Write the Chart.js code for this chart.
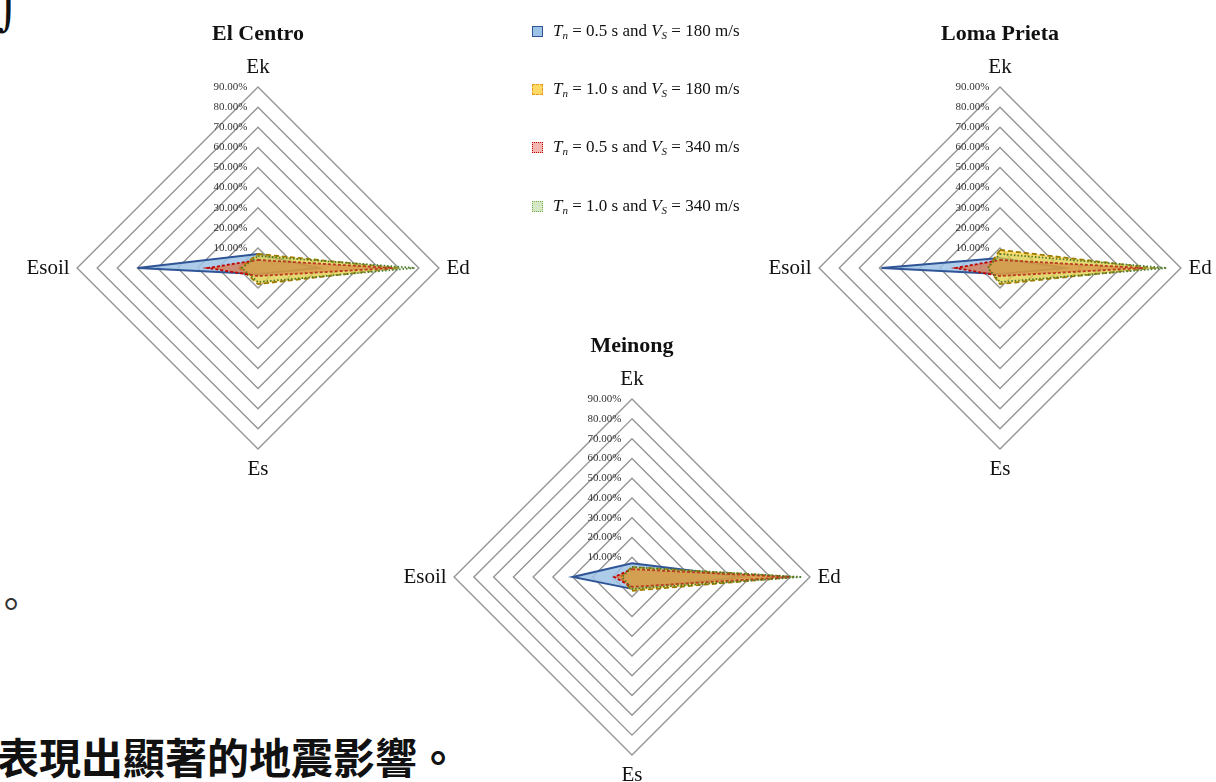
<!DOCTYPE html>
<html>
<head>
<meta charset="utf-8">
<script src="https://cdn.jsdelivr.net/npm/chart.js@4.4.1/dist/chart.umd.min.js"></script>
<style>
  html, body { margin: 0; padding: 0; background: #fff; }
  body { width: 1216px; height: 782px; position: relative; overflow: hidden; font-family: "Liberation Serif", serif; }
  canvas { position: absolute; }
  #legend { position: absolute; left: 530px; top: 19px; }
  .row { position: absolute; left: 0; height: 26px; width: 240px; white-space: nowrap; font-size: 17px; color: #111; }
  .mk { position: absolute; left: 2px; top: 7px; width: 9px; height: 9px; }
  .txt { position: absolute; left: 23px; top: 2px; }
  sub { font-size: 11px; vertical-align: -3px; }
  .cjk { position: absolute; font-family: "Noto Sans CJK TC", sans-serif; font-weight: bold; color: #111; line-height: 1; }
</style>
</head>
<body>
<div class="cjk" style="left:-3px;top:-14px;font-family:'DejaVu Sans';font-weight:normal;font-size:44px;">⌡</div>
<div class="cjk" style="left:-8px;top:583px;font-weight:normal;font-size:38px;color:#333;">。</div>
<div class="cjk" style="left:-3px;top:735px;font-size:42px;">表現出顯著的地震影響。</div>

<canvas id="elcentro" width="540" height="468" style="left:-12px;top:14px;"></canvas>
<canvas id="meinong" width="540" height="462" style="left:362px;top:326px;"></canvas>
<canvas id="lomaprieta" width="540" height="468" style="left:730px;top:14px;"></canvas>
<div id="legend"></div>

<script>
// energy components (axes), read clockwise from the top
var axisLabels = ['Ek', 'Ed', 'Es', 'Esoil'];
var tickValues = [0, 10, 20, 30, 40, 50, 60, 70, 80, 90];

// series: natural period Tn and soil shear wave velocity Vs
var periods = ['0.5', '1.0', '0.5', '1.0'];
var velocities = ['180', '180', '340', '340'];

// El Centro  [Ek, Ed, Es, Esoil] in %
var elCentro1 = [7, 30, 3, 60];
var elCentro2 = [7, 70, 8, 9];
var elCentro3 = [4, 67, 4, 25];
var elCentro4 = [6, 78, 7, 8];

// Loma Prieta
var lomaPrieta1 = [5, 32, 3, 59];
var lomaPrieta2 = [9, 76, 8, 6];
var lomaPrieta3 = [4, 71, 4, 22];
var lomaPrieta4 = [7, 83, 7, 6];

// Meinong
var meinong1 = [7, 56, 6, 30];
var meinong2 = [5, 82, 7, 6];
var meinong3 = [4, 80, 5, 9];
var meinong4 = [5, 86, 6, 5];

var fills = ['rgba(157,195,230,0.85)', 'rgba(255,205,45,0.7)', 'rgba(228,100,40,0.6)', 'rgba(165,210,125,0.28)'];
var borders = ['#2F5597', '#9C7C00', '#C00000', '#4E7A2E'];
var dashes = [[], [5, 3], [3, 2], [1.5, 2]];

function makeRadar(id, title, series, titleTop) {
  var datasets = series.map(function (vals, i) {
    return {
      label: 'Tn = ' + periods[i] + ' s and VS = ' + velocities[i] + ' m/s',
      data: vals,
      fill: true,
      backgroundColor: fills[i],
      borderColor: borders[i],
      borderWidth: i === 0 ? 2 : 1.8,
      borderDash: dashes[i],
      pointRadius: 0,
      order: 3 - i
    };
  });

  new Chart(document.getElementById(id), {
    type: 'radar',
    data: { labels: axisLabels, datasets: datasets },
    options: {
      responsive: false,
      animation: false,
      devicePixelRatio: 1,
      plugins: {
        legend: { display: false },
        tooltip: { enabled: false },
        title: {
          display: true,
          text: title,
          color: '#111',
          font: { family: 'Liberation Serif', size: 22, weight: 'bold' },
          padding: { top: titleTop, bottom: 7 }
        }
      },
      scales: {
        r: {
          min: tickValues[0],
          max: tickValues[tickValues.length - 1],
          angleLines: { display: false },
          grid: { color: '#959595', lineWidth: 1.4 },
          ticks: {
            stepSize: 10,
            color: '#333',
            showLabelBackdrop: false,
            backdropPadding: 0,
            font: { family: 'Liberation Serif', size: 11 },
            callback: function (v) { return v.toFixed(2) + '%' + '\u2003\u2003\u2003\u2003\u2003'; }
          },
          pointLabels: {
            color: '#111',
            padding: 2,
            font: { family: 'Liberation Serif', size: 21 }
          }
        }
      }
    }
  });
}

makeRadar('elcentro', 'El Centro', [elCentro1, elCentro2, elCentro3, elCentro4], 7);
makeRadar('lomaprieta', 'Loma Prieta', [lomaPrieta1, lomaPrieta2, lomaPrieta3, lomaPrieta4], 7);
makeRadar('meinong', 'Meinong', [meinong1, meinong2, meinong3, meinong4], 7);

// legend built from the series arrays
var markerBorder = ['1.5px solid #2F5597', '1.5px dashed #E69A20', '1.5px dotted #C00000', '1.5px dotted #70AD47'];
var markerFill = ['#9DC3E6', '#FFD966', '#F4B6B0', '#D5E8C6'];
var rowTops = [0, 58, 116, 175];
var legend = document.getElementById('legend');
periods.forEach(function (p, i) {
  var row = document.createElement('div');
  row.className = 'row';
  row.style.top = rowTops[i] + 'px';
  row.innerHTML = '<span class="mk" style="background:' + markerFill[i] + ';border:' + markerBorder[i] + ';"></span>' +
    '<span class="txt"><i>T</i><sub><i>n</i></sub> = ' + p + ' s and <i>V</i><sub><i>S</i></sub> = ' + velocities[i] + ' m/s</span>';
  legend.appendChild(row);
});
</script>
</body>
</html>
